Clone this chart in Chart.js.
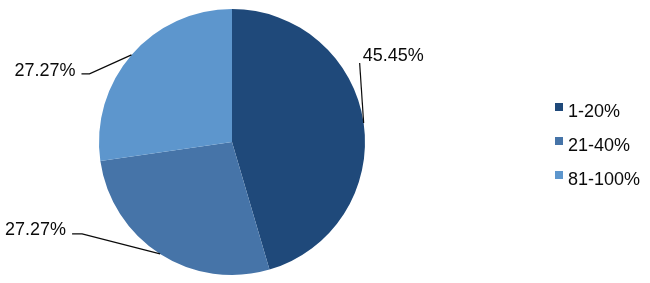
<!DOCTYPE html>
<html>
<head>
<meta charset="utf-8">
<script src="https://cdn.jsdelivr.net/npm/chart.js@4"></script>
<style>
  html, body { margin: 0; padding: 0; background: #fff; }
  #wrap { width: 650px; height: 283px; }
</style>
</head>
<body>
<div id="wrap"><canvas id="pieChart" width="650" height="283"></canvas></div>
<script>
const categories = ['1-20%', '21-40%', '81-100%'];
const shares = [45.45, 27.27, 27.27];
const sliceColors = ['#1f497a', '#4674a8', '#5d96cd'];

const FONT = '18px "Liberation Sans", Arial, sans-serif';

// leader line layout per slice: elbow offset from arc edge, tail length, text side
const leaders = [
    { dx: -4, dy: -60, tail: 0, side: 'right', tx: 3, ty: -2 },
    { dx: -78, dy: -20, tail: 10, side: 'left', tx: -6, ty: 1 },
    { dx: -42, dy: 19, tail: 8, side: 'left', tx: -6, ty: 2 }
];

const pieLabels = {
    id: 'pieLabels',
    afterDatasetsDraw(chart) {
        const ctx = chart.ctx;
        const arcs = chart.getDatasetMeta(0).data;
        ctx.save();
        ctx.font = FONT;
        ctx.fillStyle = '#0a0a0a';
        ctx.strokeStyle = '#0a0a0a';
        ctx.lineWidth = 1.2;
        ctx.textBaseline = 'alphabetic';
        arcs.forEach((arc, i) => {
            const p = arc.getProps(['x', 'y', 'startAngle', 'endAngle', 'outerRadius'], true);
            const mid = (p.startAngle + p.endAngle) / 2;
            const sx = p.x + Math.cos(mid) * p.outerRadius;
            const sy = p.y + Math.sin(mid) * p.outerRadius;
            const l = leaders[i];
            const ex = sx + l.dx, ey = sy + l.dy;
            const endX = l.side === 'left' ? ex - l.tail : ex + l.tail;
            ctx.beginPath();
            ctx.moveTo(sx, sy);
            ctx.lineTo(ex, ey);
            ctx.lineTo(endX, ey);
            ctx.stroke();
            ctx.textAlign = l.side === 'left' ? 'right' : 'left';
            ctx.fillText(shares[i].toFixed(2) + '%', endX + l.tx, ey + l.ty);
        });
        ctx.restore();
    }
};

const sideLegend = {
    id: 'sideLegend',
    afterDraw(chart) {
        const ctx = chart.ctx;
        const ds = chart.data.datasets[0];
        ctx.save();
        ctx.font = FONT;
        ctx.textAlign = 'left';
        ctx.textBaseline = 'alphabetic';
        chart.data.labels.forEach((lab, i) => {
            const base = 117 + i * 34;
            ctx.fillStyle = ds.backgroundColor[i];
            ctx.fillRect(555, base - 14, 8, 8);
            ctx.fillStyle = '#0a0a0a';
            ctx.fillText(lab, 568, base);
        });
        ctx.restore();
    }
};

const ctx1 = document.getElementById('pieChart').getContext('2d');
const pieChart = new Chart(ctx1, {
    type: 'pie',
    data: {
        labels: categories,
        datasets: [{
            data: shares,
            backgroundColor: sliceColors,
            borderWidth: 0
        }]
    },
    options: {
        responsive: false,
        animation: false,
        events: [],
        layout: { padding: { left: 99, right: 285, top: 9, bottom: 8 } },
        plugins: {
            legend: { display: false },
            tooltip: { enabled: false }
        }
    },
    plugins: [pieLabels, sideLegend]
});
</script>
</body>
</html>
